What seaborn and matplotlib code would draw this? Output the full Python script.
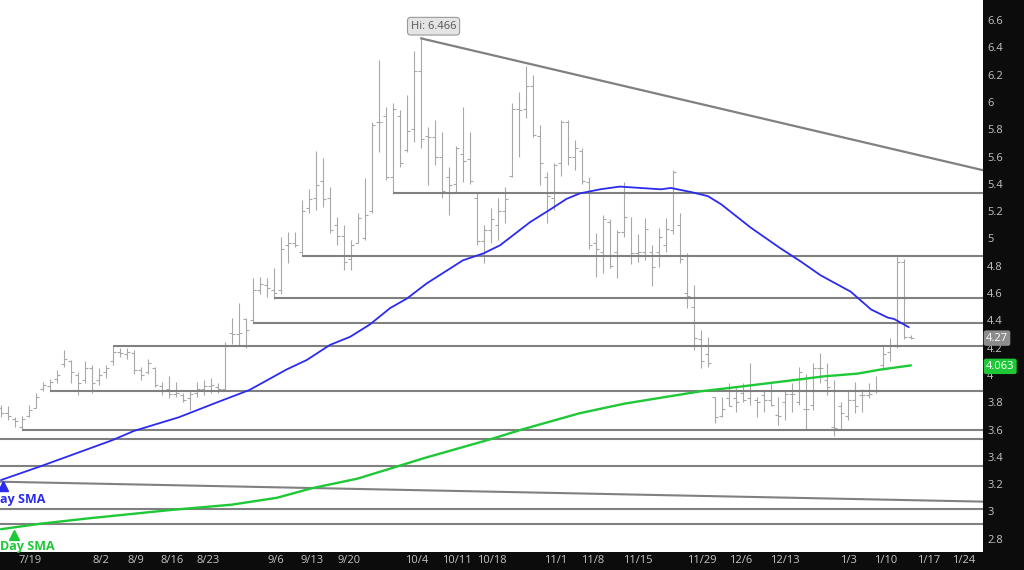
import matplotlib
matplotlib.use("Agg")
import matplotlib.pyplot as plt
import numpy as np
import pandas as pd
import seaborn as sns

# daily OHLC bars (one per trading day, left to right)
opens = [3.76, 3.72, 3.68, 3.62, 3.70, 3.76, 3.90, 3.92, 3.97, 4.08,
         4.10, 4.00, 3.96, 4.05, 3.96, 4.02, 4.10, 4.17, 4.15, 4.16,
         4.04, 4.02, 4.05, 3.92, 3.90, 3.86, 3.85, 3.83, 3.87, 3.90,
         3.92, 3.91, 3.90, 4.31, 4.30, 4.41, 4.40, 4.62, 4.66, 4.62,
         4.62, 4.95, 4.97, 4.90, 5.22, 5.30, 5.42, 5.30, 5.10, 5.02,
         4.85, 4.97, 5.00, 5.20, 5.85, 5.90, 5.45, 5.90, 5.65, 5.80,
         6.23, 5.75, 5.74, 5.60, 5.45, 5.40, 5.62, 5.58, 5.30, 4.98,
         5.06, 5.10, 5.20, 5.46, 5.95, 5.95, 6.12, 5.75, 5.45, 5.30,
         5.55, 5.85, 5.60, 5.64, 5.41, 4.97, 4.90, 5.12, 4.90, 5.05,
         4.88, 4.89, 4.90, 4.90, 4.90, 4.95, 5.06, 5.10, 4.60, 4.50,
         4.26, 4.15, 3.84, 3.70, 3.83, 3.83, 3.87, 3.83, 3.82, 3.85,
         3.82, 3.71, 3.80, 3.86, 3.80, 3.75, 3.78, 4.05, 3.96, 3.62,
         3.77, 3.70, 3.82, 3.85, 3.85, 3.88, 4.07, 4.17, 4.22, 4.83,
         4.28]
highs = [3.78, 3.77, 3.69, 3.70, 3.78, 3.87, 3.95, 3.97, 4.04, 4.18,
         4.11, 4.02, 4.10, 4.07, 4.05, 4.07, 4.21, 4.20, 4.20, 4.18,
         4.06, 4.12, 4.06, 3.95, 3.99, 3.95, 3.87, 3.89, 3.95, 3.96,
         3.98, 3.94, 4.24, 4.42, 4.53, 4.42, 4.71, 4.72, 4.71, 4.78,
         5.01, 5.05, 5.05, 5.28, 5.36, 5.64, 5.59, 5.38, 5.16, 5.10,
         4.99, 5.19, 5.44, 5.85, 6.31, 5.96, 5.99, 5.94, 6.05, 6.37,
         6.466, 5.82, 5.87, 5.78, 5.52, 5.68, 5.96, 5.78, 5.33, 5.10,
         5.22, 5.30, 5.38, 5.99, 6.07, 6.26, 6.20, 5.83, 5.49, 5.55,
         5.87, 5.87, 5.72, 5.66, 5.45, 5.04, 5.17, 5.14, 5.06, 5.41,
         5.16, 5.03, 5.15, 4.95, 5.08, 5.15, 5.50, 5.19, 4.89, 4.66,
         4.33, 4.28, 3.84, 3.84, 3.94, 3.91, 3.94, 4.09, 3.84, 3.88,
         3.94, 3.84, 3.89, 3.94, 4.06, 4.01, 4.09, 4.16, 4.09, 3.96,
         3.80, 3.89, 3.95, 3.90, 3.94, 3.99, 4.21, 4.27, 4.88, 4.85,
         4.29]
lows = [3.69, 3.67, 3.62, 3.60, 3.69, 3.76, 3.88, 3.885, 3.94, 4.06,
        3.94, 3.85, 3.94, 3.87, 3.93, 3.98, 4.07, 4.13, 4.12, 4.01,
        3.96, 4.01, 3.91, 3.85, 3.83, 3.84, 3.80, 3.74, 3.84, 3.85,
        3.87, 3.87, 3.88, 4.23, 4.22, 4.20, 4.38, 4.59, 4.57, 4.56,
        4.59, 4.82, 4.94, 4.87, 5.19, 5.21, 5.23, 5.04, 4.95, 4.77,
        4.77, 4.97, 4.99, 5.19, 5.63, 5.43, 5.34, 5.52, 5.63, 5.71,
        5.66, 5.39, 5.54, 5.30, 5.17, 5.33, 5.41, 5.40, 4.95, 4.82,
        4.97, 4.99, 5.11, 5.45, 5.60, 5.88, 5.74, 5.39, 5.11, 5.21,
        5.46, 5.54, 5.50, 5.40, 4.92, 4.72, 4.75, 4.78, 4.71, 5.01,
        4.81, 4.83, 4.84, 4.65, 4.79, 4.90, 5.03, 4.82, 4.49, 4.18,
        4.05, 4.06, 3.65, 3.69, 3.77, 3.73, 3.80, 3.78, 3.69, 3.73,
        3.77, 3.63, 3.67, 3.73, 3.78, 3.60, 3.74, 3.94, 3.85, 3.55,
        3.60, 3.67, 3.72, 3.73, 3.83, 3.87, 4.04, 4.10, 4.20, 4.26,
        4.26]
closes = [3.72, 3.70, 3.66, 3.68, 3.74, 3.84, 3.93, 3.95, 4.00, 4.12,
          4.02, 3.94, 4.05, 3.94, 4.00, 4.05, 4.17, 4.16, 4.17, 4.04,
          4.00, 4.09, 3.93, 3.88, 3.86, 3.87, 3.82, 3.86, 3.90, 3.92,
          3.93, 3.90, 4.22, 4.30, 4.31, 4.33, 4.62, 4.67, 4.64, 4.60,
          4.92, 4.97, 4.95, 5.20, 5.29, 5.39, 5.29, 5.06, 5.02, 4.83,
          4.95, 5.15, 5.17, 5.83, 5.85, 5.45, 5.95, 5.55, 5.79, 6.23,
          5.73, 5.74, 5.60, 5.35, 5.39, 5.66, 5.57, 5.42, 4.98, 5.06,
          5.14, 5.20, 5.29, 5.95, 5.94, 6.12, 5.76, 5.55, 5.31, 5.54,
          5.85, 5.60, 5.66, 5.42, 4.95, 4.92, 5.14, 4.80, 5.05, 5.16,
          4.89, 4.90, 5.07, 4.79, 5.01, 5.07, 5.49, 4.85, 4.58, 4.27,
          4.10, 4.09, 3.69, 3.75, 3.77, 3.80, 3.82, 3.88, 3.80, 3.82,
          3.78, 3.70, 3.86, 3.86, 4.02, 3.75, 4.05, 4.05, 3.91, 3.61,
          3.72, 3.82, 3.77, 3.85, 3.86, 3.88, 4.15, 4.22, 4.83, 4.28,
          4.27]

# moving averages, sampled along the drawn curves (bar index, price)
blue_sma_x = [0, 5.6, 15.8, 19, 25.4, 28.4, 30.4, 35.5, 40.8, 43.7, 47, 49.9,
              52.7, 55.6, 58, 60.8, 66, 68.9, 71.3, 75.6, 78.4, 80.8, 82.7,
              85.6, 88.4, 94.3, 95.7, 98.6, 101, 102.9, 107.1, 111.3, 114.3,
              117.1, 121.4, 124.3, 126.7, 127.6, 129.7]
blue_sma_y = [3.23, 3.33, 3.52, 3.59, 3.69, 3.75, 3.79, 3.89, 4.04, 4.11, 4.22, 4.28,
              4.37, 4.49, 4.56, 4.67, 4.84, 4.89, 4.95, 5.12, 5.21, 5.29, 5.33,
              5.36, 5.38, 5.36, 5.37, 5.34, 5.31, 5.25, 5.08, 4.93, 4.83,
              4.73, 4.61, 4.48, 4.42, 4.41, 4.35]
green_sma_x = [0, 5.6, 12.6, 24.1, 33, 39.4, 44.4, 50.9, 56, 60.4, 70, 74.4,
               82.7, 89.1, 99.9, 103.3, 108.1, 112.9, 117.6, 122.4, 125.7, 130]
green_sma_y = [2.87, 2.91, 2.95, 3.01, 3.05, 3.10, 3.17, 3.24, 3.32, 3.39, 3.53, 3.60,
               3.72, 3.79, 3.88, 3.90, 3.93, 3.96, 3.99, 4.01, 4.04, 4.07]

# support / resistance levels and the bar they start from
levels = [5.336, 4.874, 4.562, 4.383, 4.212, 3.885, 3.597, 3.53, 3.33, 3.018, 2.906]
level_start = [56, 43, 39, 36, 16, 7, 3, -1, -1, -1, -1]

upper_trend_x = [60, 140.3]
upper_trend_y = [6.466, 5.50]
lower_trend_x = [-0.2, 140.3]
lower_trend_y = [3.218, 3.072]

date_labels = ['7/19', '8/2', '8/9', '8/16', '8/23', '9/6', '9/13', '9/20', '10/4',
               '10/11', '10/18', '11/1', '11/8', '11/15', '11/29', '12/6', '12/13',
               '1/3', '1/10', '1/17', '1/24']
date_ticks = [4.1, 14.3, 19.3, 24.4, 29.6, 39.3, 44.4, 49.7, 59.4, 65.1, 70.1,
              79.3, 84.6, 91.0, 100.1, 105.7, 112.0, 121.1, 126.4, 132.6, 137.6]

price_ticks = [2.8, 3.0, 3.2, 3.4, 3.6, 3.8, 4.0, 4.2, 4.4, 4.6, 4.8, 5.0,
               5.2, 5.4, 5.6, 5.8, 6.0, 6.2, 6.4, 6.6]

sns.set_style("white")
plt.rcParams['font.family'] = ['Open Sans', 'DejaVu Sans']

bar_color = '#a8a8a8'
level_color = '#808080'
label_color = '#c4c4c4'

fig = plt.figure(figsize=(10.24, 5.70), dpi=100, facecolor='#0c0c0c')
ax = fig.add_axes([0, 18 / 570, 983 / 1024, 552 / 570])
ax.set_facecolor('white')

idx = np.arange(len(opens))

# OHLC bars
ax.vlines(idx, lows, highs, color=bar_color, linewidth=0.8, zorder=2)
ax.hlines(opens, idx - 0.45, idx, color=bar_color, linewidth=0.8, zorder=2)
ax.hlines(closes, idx, idx + 0.45, color=bar_color, linewidth=0.8, zorder=2)

xmax = 140.3
for lv, st in zip(levels, level_start):
    ax.hlines(lv, st, xmax, color=level_color, linewidth=1.5, zorder=3)

ax.plot(upper_trend_x, upper_trend_y, color=level_color, linewidth=1.6, zorder=3)
ax.plot(lower_trend_x, lower_trend_y, color=level_color, linewidth=1.5, zorder=3)

sma = pd.DataFrame({'x': blue_sma_x, 'y': blue_sma_y})
sns.lineplot(data=sma, x='x', y='y', ax=ax, color='#2b2bf0', linewidth=1.3,
             estimator=None, sort=False, zorder=4)
sma2 = pd.DataFrame({'x': green_sma_x, 'y': green_sma_y})
sns.lineplot(data=sma2, x='x', y='y', ax=ax, color='#1ec837', linewidth=1.7,
             estimator=None, sort=False, zorder=4)

ax.set_xlim(-1 / 7, xmax)
ax.set_ylim(2.703, 6.747)

ax.yaxis.tick_right()
ax.set_yticks(price_ticks)
ax.set_yticklabels([f"{v:g}" for v in price_ticks])
ax.set_xticks(date_ticks)
ax.set_xticklabels(date_labels)
ax.tick_params(axis='both', length=0, colors=label_color, labelsize=8)
ax.tick_params(axis='y', pad=3)
ax.tick_params(axis='x', pad=2)
for lab in ax.get_yticklabels():
    lab.set_horizontalalignment('left')
ax.set_xlabel('')
ax.set_ylabel('')
for sp in ax.spines.values():
    sp.set_visible(False)

# high callout
ax.annotate('Hi: 6.466', xy=(60, 6.466), xytext=(61.8, 6.555), ha='center', va='center',
            fontsize=8, color='#555555',
            bbox=dict(boxstyle='round,pad=0.3', fc='#e4e4e4', ec='#9a9a9a', lw=0.8),
            arrowprops=dict(arrowstyle='-', color='#9a9a9a', lw=0.8),
            zorder=6)

# last price tags on the axis
ax.text(1.003, 4.27, '4.27', transform=ax.get_yaxis_transform(), ha='left', va='center',
        fontsize=8, color='white', clip_on=False,
        bbox=dict(boxstyle='round,pad=0.2', fc='#8c8c8c', ec='none'), zorder=7)
ax.text(1.003, 4.063, '4.063', transform=ax.get_yaxis_transform(), ha='left', va='center',
        fontsize=8, color='white', clip_on=False,
        bbox=dict(boxstyle='round,pad=0.2', fc='#1ec837', ec='none'), zorder=7)

# SMA legend markers at the left edge
ax.plot([0.3], [3.19], marker='^', color='#2b2bf0', markersize=7, clip_on=False, zorder=6)
ax.text(-0.1, 3.09, 'ay SMA', color='#2b2bf0', fontsize=9, fontweight='bold',
        ha='left', va='center', zorder=6)
ax.plot([1.9], [2.83], marker='^', color='#1ec837', markersize=7, zorder=6)
ax.text(-0.1, 2.74, 'Day SMA', color='#1ec837', fontsize=9, fontweight='bold',
        ha='left', va='center', zorder=6)

fig.savefig('out.png', dpi=100, facecolor=fig.get_facecolor())
